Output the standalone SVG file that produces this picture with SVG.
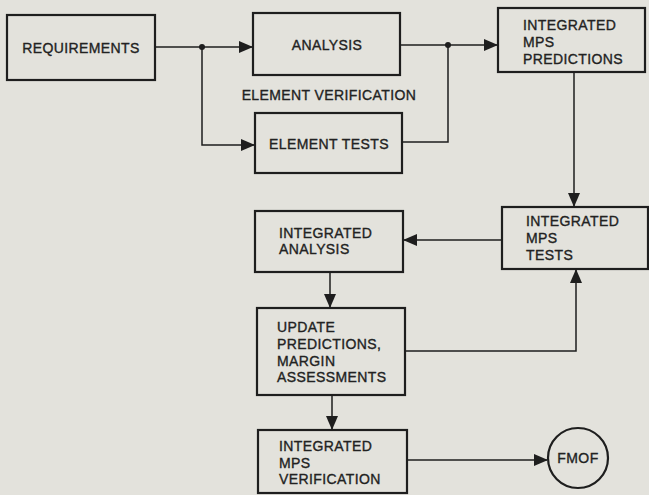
<svg xmlns="http://www.w3.org/2000/svg" width="649" height="495" viewBox="0 0 649 495">
<defs>
<marker id="ahl" markerWidth="14" markerHeight="12" refX="13" refY="6" orient="auto" markerUnits="userSpaceOnUse"><path d="M0,0 L14,6 L0,12 z" fill="#1e1e1e"/></marker>
</defs>
<style>
.box{fill:none;stroke:#1e1e1e;stroke-width:2.2}
.t{font-family:"Liberation Sans",Arial,sans-serif;font-size:14px;fill:#222;stroke:#222;stroke-width:0.35;letter-spacing:0.4px}
.c{fill:none;stroke:#1e1e1e;stroke-width:1.5}
</style>
<rect width="649" height="495" fill="#e3e2dc"/>
<g id="requirements"><rect class="box" x="7" y="15" width="148" height="65"/><text class="t" x="81" y="53" text-anchor="middle">REQUIREMENTS</text></g>
<g id="analysis"><rect class="box" x="253" y="13" width="147" height="62"/><text class="t" x="327" y="50" text-anchor="middle">ANALYSIS</text></g>
<g id="element-verification"><text class="t" x="329" y="100" text-anchor="middle">ELEMENT VERIFICATION</text></g>
<g id="element-tests"><rect class="box" x="255" y="113" width="147" height="60"/><text class="t" x="329" y="149" text-anchor="middle">ELEMENT TESTS</text></g>
<g id="mps-predictions"><rect class="box" x="498" y="8" width="147" height="64"/><text class="t" x="523" y="30">INTEGRATED</text><text class="t" x="523" y="47">MPS</text><text class="t" x="523" y="64">PREDICTIONS</text></g>
<g id="mps-tests"><rect class="box" x="502" y="207" width="146" height="62"/><text class="t" x="526" y="226">INTEGRATED</text><text class="t" x="526" y="243">MPS</text><text class="t" x="526" y="260">TESTS</text></g>
<g id="integrated-analysis"><rect class="box" x="255" y="211" width="148" height="61"/><text class="t" x="279" y="238">INTEGRATED</text><text class="t" x="279" y="254">ANALYSIS</text></g>
<g id="update"><rect class="box" x="257" y="308" width="148" height="87"/><text class="t" x="277" y="332">UPDATE</text><text class="t" x="277" y="349">PREDICTIONS,</text><text class="t" x="277" y="366">MARGIN</text><text class="t" x="277" y="382">ASSESSMENTS</text></g>
<g id="verification"><rect class="box" x="258" y="430" width="149" height="63"/><text class="t" x="279" y="451">INTEGRATED</text><text class="t" x="279" y="468">MPS</text><text class="t" x="279" y="484">VERIFICATION</text></g>
<g id="fmof"><circle class="box" cx="578" cy="458" r="30"/><text class="t" x="578" y="463" text-anchor="middle">FMOF</text></g>
<g id="connectors">
<path class="c" d="M155,47 H252" marker-end="url(#ahl)"/>
<path class="c" d="M202,47 V145 H254" marker-end="url(#ahl)"/>
<circle cx="202" cy="47" r="3" fill="#1e1e1e"/>
<path class="c" d="M400,45 H497" marker-end="url(#ahl)"/>
<path class="c" d="M448,45 V142 H402"/>
<circle cx="448" cy="45" r="3" fill="#1e1e1e"/>
<path class="c" d="M574,72 V206" marker-end="url(#ahl)"/>
<path class="c" d="M502,240 H404" marker-end="url(#ahl)"/>
<path class="c" d="M330,272 V307" marker-end="url(#ahl)"/>
<path class="c" d="M405,351 H576 V270" marker-end="url(#ahl)"/>
<path class="c" d="M332,395 V429" marker-end="url(#ahl)"/>
<path class="c" d="M407,460 H547" marker-end="url(#ahl)"/>
</g>
</svg>
